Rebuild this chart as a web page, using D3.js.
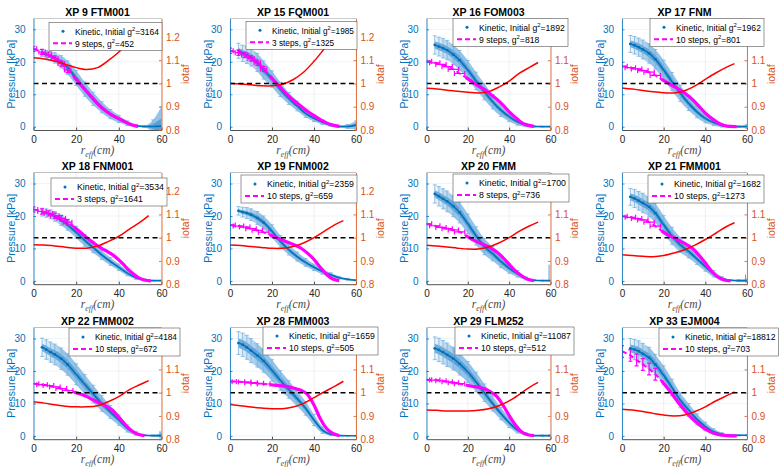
<!DOCTYPE html>
<html>
<head>
<meta charset="utf-8">
<script src="https://cdn.jsdelivr.net/npm/d3@7"></script>
<style>
body { margin: 0; background: #fff; }
svg { display: block; font-family: "Liberation Sans", Arial, Helvetica, sans-serif; }
</style>
</head>
<body>
<svg id="chart" width="779" height="467"></svg>
<script>
// panel titles and legend numbers
const titles = ["XP 9 FTM001", "XP 15 FQM001", "XP 16 FOM003", "XP 17 FNM",
                "XP 18 FNM001", "XP 19 FNM002", "XP 20 FMM", "XP 21 FMM001",
                "XP 22 FMM002", "XP 28 FMM003", "XP 29 FLM252", "XP 33 EJM004"];
const initG2 = [3164, 1985, 1892, 1962, 3534, 2359, 1700, 1682, 4184, 1659, 11087, 18812];
const steps = [9, 3, 9, 10, 3, 10, 8, 10, 10, 10, 10, 10];
const finalG2 = [452, 1325, 818, 801, 1641, 659, 736, 1273, 672, 505, 512, 703];

// kinetic pressure (kPa) and its spread, at r_eff (cm)
const kinR = [4, 6, 8, 10, 13, 16, 20, 24, 28, 32, 36, 40, 44, 48, 52, 56, 60];
const kinP = [
  [22.6, 22.3, 21.8, 21.2, 20.0, 18.2, 15.0, 11.6, 8.6, 6.0, 3.9, 2.4, 1.1, 0.3, 0.1, 0.1, 0.2],
  [23.4, 22.6, 22.1, 21.4, 19.8, 17.5, 14.7, 11.5, 8.7, 6.4, 4.1, 2.6, 1.4, 0.5, 0.1, 0.1, 0.5],
  [25.2, 24.7, 24.2, 23.6, 22.2, 20.5, 17.5, 14.1, 10.8, 7.7, 5.1, 3.1, 1.5, 0.5, 0.1, 0.05, 0.05],
  [25.5, 25.1, 24.5, 23.8, 22.6, 20.8, 17.5, 13.9, 10.3, 7.2, 4.6, 2.6, 1.3, 0.4, 0.1, 0.05, 0.1],
  [21.2, 20.9, 20.5, 19.9, 18.7, 17.3, 15.0, 12.5, 10.3, 8.0, 6.0, 4.2, 2.4, 1.0, 0.3, 0.1, 0.1],
  [21.6, 21.2, 20.9, 20.4, 19.4, 18.0, 15.3, 12.2, 9.6, 7.5, 5.7, 4.2, 2.9, 1.9, 1.0, 0.5, 0.2],
  [26.8, 26.1, 25.3, 24.5, 23.0, 21.1, 17.6, 13.9, 10.6, 8.4, 6.0, 3.9, 2.2, 0.8, 0.2, 0.1, 0.1],
  [25.9, 25.4, 24.7, 24.0, 22.8, 20.9, 17.3, 13.9, 11.1, 9.1, 6.8, 4.4, 2.2, 0.8, 0.2, 0.1, 0.1],
  [27.3, 26.6, 25.8, 25.1, 23.8, 22.0, 19.0, 15.9, 12.9, 10.0, 7.4, 4.9, 2.3, 0.8, 0.2, 0.1, 0.1],
  [28.6, 28.1, 27.3, 26.3, 24.8, 23.1, 20.2, 17.1, 14.3, 11.5, 8.5, 4.9, 1.8, 0.5, 0.1, 0.05, 0.05],
  [27.0, 26.5, 25.8, 25.0, 23.8, 22.2, 19.7, 16.6, 13.3, 10.0, 6.9, 4.1, 1.8, 0.6, 0.1, 0.1, 0.1],
  [27.0, 26.6, 26.1, 25.3, 24.1, 22.0, 18.7, 14.9, 11.0, 8.0, 5.1, 2.9, 1.3, 0.5, 0.2, 0.2, 0.2]
];
const kinErr = [
  [1.0, 1.2, 1.4, 1.6, 1.9, 2.1, 2.3, 2.2, 2.0, 1.7, 1.4, 1.1, 0.7, 0.4, 0.3, 2.0, 6.0],
  [2.3, 2.5, 2.6, 2.7, 2.8, 2.8, 2.5, 2.2, 1.8, 1.5, 1.2, 1.0, 0.7, 0.4, 0.3, 0.6, 1.3],
  [2.8, 2.9, 3.0, 3.0, 3.0, 3.0, 2.9, 2.7, 2.5, 2.2, 1.9, 1.5, 1.0, 0.5, 0.2, 0.1, 0.1],
  [2.6, 2.7, 2.8, 2.9, 3.0, 3.0, 3.0, 2.8, 2.5, 2.2, 1.8, 1.4, 0.9, 0.5, 0.2, 0.2, 0.6],
  [1.2, 1.3, 1.4, 1.5, 1.6, 1.7, 1.8, 1.8, 1.6, 1.4, 1.2, 1.0, 0.8, 0.5, 0.3, 0.1, 0.1],
  [1.3, 1.5, 1.7, 1.8, 2.0, 2.0, 2.0, 1.8, 1.6, 1.4, 1.2, 1.0, 0.8, 0.6, 0.4, 0.3, 0.2],
  [2.8, 3.0, 3.1, 3.2, 3.2, 3.2, 3.0, 2.8, 2.5, 2.2, 1.9, 1.5, 1.0, 0.5, 0.2, 0.1, 0.1],
  [2.6, 2.8, 2.9, 3.0, 3.0, 3.0, 2.8, 2.6, 2.3, 2.0, 1.7, 1.4, 1.0, 0.5, 0.2, 0.3, 0.5],
  [2.8, 3.0, 3.1, 3.2, 3.3, 3.3, 3.2, 3.0, 2.7, 2.4, 2.0, 1.6, 1.1, 0.6, 0.2, 0.2, 0.8],
  [3.5, 3.6, 3.7, 3.7, 3.6, 3.5, 3.3, 3.0, 2.7, 2.4, 2.1, 1.7, 1.0, 0.4, 0.1, 0.1, 0.1],
  [3.5, 3.6, 3.6, 3.6, 3.5, 3.4, 3.2, 3.0, 2.7, 2.3, 1.9, 1.5, 0.9, 0.4, 0.1, 0.2, 0.3],
  [3.0, 3.1, 3.2, 3.2, 3.2, 3.1, 2.9, 2.6, 2.3, 2.0, 1.7, 1.3, 0.9, 0.5, 0.2, 0.2, 0.2]
];
// single tall error bar at the edge (kPa)
const edgeErr = [0, 0, 0, 0, 0, 0, 5, 2, 1.5, 0, 0, 0];

// fitted pressure (kPa) after the steps
const fitR = [0, 4, 7, 10, 13, 16, 19, 22, 25, 28, 31, 34, 37, 40, 43, 46, 49, 52, 55];
const fitP = [
  [24.0, 23.0, 22.2, 21.0, 19.5, 17.5, 15.3, 13.0, 10.8, 8.6, 6.4, 4.8, 3.5, 2.5, 1.5, 0.6, 0.1, null, null],
  [23.4, 22.8, 22.1, 21.0, 19.7, 17.8, 15.6, 13.5, 11.4, 9.4, 7.8, 6.2, 4.7, 3.4, 2.2, 1.2, 0.5, 0.1, null],
  [20.2, 19.7, 19.2, 18.5, 17.7, 16.4, 15.2, 13.9, 12.6, 11.5, 10.0, 8.5, 6.7, 4.6, 2.9, 1.3, 0.5, 0.1, null],
  [18.6, 18.2, 17.8, 17.3, 16.8, 15.8, 14.6, 13.5, 12.4, 11.3, 9.9, 8.3, 6.3, 4.2, 2.6, 1.3, 0.4, 0.1, 0.05],
  [22.0, 21.4, 20.8, 20.1, 19.3, 18.1, 16.6, 15.0, 13.3, 11.8, 10.4, 9.3, 8.1, 6.5, 4.5, 2.6, 1.1, 0.3, 0.05],
  [17.2, 16.9, 16.6, 16.1, 15.6, 15.0, 14.2, 13.4, 12.6, 11.8, 11.0, 10.0, 8.5, 6.6, 4.2, 2.0, 0.6, 0.1, null],
  [17.6, 17.0, 16.5, 16.1, 15.7, 15.1, 14.0, 12.8, 11.9, 11.1, 10.2, 8.9, 7.2, 5.1, 3.1, 1.6, 0.5, 0.1, null],
  [19.9, 19.6, 19.2, 18.8, 18.1, 16.9, 15.4, 14.2, 13.3, 12.2, 11.2, 9.9, 7.9, 5.5, 3.0, 1.2, 0.3, 0.05, null],
  [16.1, 15.8, 15.5, 15.1, 14.6, 14.0, 13.5, 12.9, 12.1, 11.1, 10.1, 9.2, 7.9, 5.8, 3.5, 1.6, 0.5, 0.1, null],
  [16.8, 16.7, 16.6, 16.4, 16.2, 16.0, 15.8, 15.6, 15.4, 15.1, 14.6, 14.0, 12.7, 9.5, 5.3, 2.3, 0.8, 0.15, null],
  [17.3, 17.2, 17.0, 16.7, 16.4, 16.1, 15.7, 15.3, 15.0, 14.5, 13.6, 12.2, 9.5, 6.3, 3.4, 1.3, 0.4, 0.1, null],
  [26.0, 24.8, 23.4, 22.0, 20.6, 19.0, 16.9, 14.6, 12.1, 9.5, 7.2, 5.2, 3.5, 2.1, 1.1, 0.5, 0.2, 0.05, 0.0]
];
// error bar half-sizes of the fitted points: radial (cm) and pressure (kPa)
const fitErrR = [1.5, 1.5, 2.5, 2.5, 2, 2.5, 2.5, 2.5, 2.5, 3, 2.5, 0];
const fitErrP = [0.8, 0.8, 0, 0, 0.8, 0, 0, 0, 0, 0, 0, 1.8];

// rotational transform iotaf
const iotaR = [0, 5, 10, 15, 20, 25, 30, 35, 40, 45, 50, 54];
const iotaV = [
  [1.110, 1.105, 1.096, 1.082, 1.068, 1.060, 1.068, 1.098, 1.135, 1.180, 1.225, 1.255],
  [1.000, 0.998, 0.994, 0.990, 0.990, 0.997, 1.016, 1.048, 1.095, 1.150, 1.205, 1.245],
  [0.979, 0.976, 0.971, 0.966, 0.962, 0.959, 0.965, 0.984, 1.010, 1.044, 1.070, 1.090],
  [0.981, 0.976, 0.970, 0.964, 0.960, 0.959, 0.969, 0.990, 1.018, 1.045, 1.069, 1.085],
  [0.970, 0.968, 0.964, 0.959, 0.955, 0.955, 0.964, 0.983, 1.006, 1.037, 1.067, 1.095],
  [0.968, 0.966, 0.962, 0.958, 0.954, 0.954, 0.962, 0.977, 1.000, 1.028, 1.056, 1.073],
  [0.967, 0.964, 0.960, 0.955, 0.951, 0.951, 0.960, 0.977, 1.000, 1.028, 1.051, 1.067],
  [0.927, 0.923, 0.920, 0.918, 0.923, 0.934, 0.948, 0.968, 0.992, 1.019, 1.047, 1.064],
  [0.961, 0.955, 0.948, 0.942, 0.939, 0.939, 0.944, 0.961, 0.983, 1.013, 1.035, 1.052],
  [0.949, 0.944, 0.938, 0.934, 0.931, 0.931, 0.938, 0.954, 0.979, 1.004, 1.028, 1.049],
  [0.926, 0.924, 0.921, 0.921, 0.921, 0.924, 0.931, 0.944, 0.965, 0.993, 1.024, 1.044],
  [0.929, 0.925, 0.919, 0.911, 0.904, 0.900, 0.904, 0.919, 0.939, 0.964, 0.986, 1.003]
];

const xTicks = [0, 20, 40, 60];
const pTicks = [0, 10, 20, 30];
const iotaTicks = [0.8, 0.9, 1, 1.1, 1.2];

// layout
const colLeft = [33.5, 230, 426.5, 622];
const colRight = [161.5, 356, 550.5, 747];
const rowBottom = [130, 284.2, 439.2];
const plotH = 111.7;
// legend box: left edge from plot left, right edge from plot right, top from plot top
const legendDx = [15.5, 16, 26.5, 28, 17.5, 11, 26.5, 26, 35.5, 33, 28.5, 37];
const legendRx = [0.5, 1, 17.5, 17, 5.5, 1, 18.5, 17, 18.5, 22, 23.5, 31.5];
const legendDy = [4, 3, 0, 0, 5.5, 2.5, 1.5, 2.5, 0.5, -0.5, -0.5, 0.5];

const blue = "#0072BD", orange = "#D95319", dark = "#262626";

const svg = d3.select("#chart");
const defs = svg.append("defs");

titles.forEach((title, i) => {
    const col = i % 4, row = Math.floor(i / 4);
    const x0 = colLeft[col], x1 = colRight[col];
    const y1 = rowBottom[row], y0 = y1 - plotH;

    const x = d3.scaleLinear().domain([0, 60]).range([x0, x1]);
    const yP = d3.scaleLinear().domain([-1, 33.4]).range([y1, y0]);
    const yI = d3.scaleLinear().domain([0.8, 1.28]).range([y1, y0]);

    const g = svg.append("g");

    defs.append("clipPath").attr("id", "clip" + i)
        .append("rect").attr("x", x0).attr("y", y0).attr("width", x1 - x0).attr("height", plotH);

    // the band fades in near the core, where the error bars are still separate
    const grad = defs.append("linearGradient").attr("id", "fade" + i)
        .attr("gradientUnits", "userSpaceOnUse")
        .attr("x1", x(4)).attr("x2", x(14)).attr("y1", 0).attr("y2", 0);
    grad.append("stop").attr("offset", 0).attr("stop-color", "#93c3e8").attr("stop-opacity", 0.15);
    grad.append("stop").attr("offset", 1).attr("stop-color", "#93c3e8").attr("stop-opacity", 1);

    // grid
    g.selectAll(".vg").data(xTicks).enter().append("line")
        .attr("x1", d => x(d)).attr("x2", d => x(d)).attr("y1", y0).attr("y2", y1)
        .attr("stroke", "rgba(38,38,38,0.12)").attr("stroke-width", 0.6);
    g.selectAll(".hg").data(pTicks).enter().append("line")
        .attr("x1", x0).attr("x2", x1).attr("y1", d => yP(d)).attr("y2", d => yP(d))
        .attr("stroke", "rgba(0,114,189,0.13)").attr("stroke-width", 0.6);

    const plot = g.append("g").attr("clip-path", `url(#clip${i})`);

    // kinetic profile
    const kin = kinR.map((r, j) => ({r, p: kinP[i][j], e: kinErr[i][j]}));
    plot.append("path").datum(kin)
        .attr("d", d3.area().x(d => x(d.r)).y0(d => yP(d.p - d.e)).y1(d => yP(d.p + d.e)).curve(d3.curveMonotoneX))
        .attr("fill", `url(#fade${i})`);
    plot.append("path").datum(kin)
        .attr("d", d3.area().x(d => x(d.r)).y0(d => yP(d.p - 0.4 * d.e)).y1(d => yP(d.p + 0.4 * d.e)).curve(d3.curveMonotoneX))
        .attr("fill", "#4a94cf").attr("opacity", 0.75);

    const eb = plot.append("g").attr("stroke", "#79b1dc").attr("stroke-width", 0.8);
    kin.forEach(d => {
        eb.append("line").attr("x1", x(d.r)).attr("x2", x(d.r)).attr("y1", yP(d.p - d.e)).attr("y2", yP(d.p + d.e));
        [d.p - d.e, d.p + d.e].forEach(v => eb.append("line")
            .attr("x1", x(d.r) - 2).attr("x2", x(d.r) + 2).attr("y1", yP(v)).attr("y2", yP(v)));
    });
    if (edgeErr[i] > 0) {
        plot.append("line").attr("x1", x(59.3)).attr("x2", x(59.3))
            .attr("y1", yP(0)).attr("y2", yP(edgeErr[i]))
            .attr("stroke", "#5a9fd6").attr("stroke-width", 1);
    }
    plot.append("path").datum(kin)
        .attr("d", d3.line().x(d => x(d.r)).y(d => yP(d.p)).curve(d3.curveMonotoneX))
        .attr("fill", "none").attr("stroke", blue).attr("stroke-width", 1.6);
    plot.selectAll(".dot").data(kin.filter(d => d.r <= 16)).enter().append("circle")
        .attr("cx", d => x(d.r)).attr("cy", d => yP(d.p)).attr("r", 1.4).attr("fill", blue);

    // fitted profile
    const fit = fitR.map((r, j) => ({r, p: fitP[i][j]})).filter(d => d.p != null);
    const fitLine = d3.line().x(d => x(d.r)).y(d => yP(d.p)).curve(d3.curveMonotoneX);
    plot.append("path").datum(fit).attr("d", fitLine)
        .attr("fill", "none").attr("stroke", "#FF00FF").attr("stroke-width", 2)
        .attr("stroke-dasharray", "5,3");
    plot.append("path").datum(fit.filter(d => d.r >= 19)).attr("d", fitLine)
        .attr("fill", "none").attr("stroke", "#FF00FF").attr("stroke-width", 3.2);
    const fb = plot.append("g").attr("stroke", "#FF00FF").attr("stroke-width", 1.2);
    fit.filter(d => d.r <= 16).forEach(d => {
        const er = fitErrR[i], ep = fitErrP[i];
        if (er > 0) {
            fb.append("line").attr("x1", x(d.r - er)).attr("x2", x(d.r + er)).attr("y1", yP(d.p)).attr("y2", yP(d.p));
            [d.r - er, d.r + er].forEach(v => fb.append("line")
                .attr("x1", x(v)).attr("x2", x(v)).attr("y1", yP(d.p) - 2.5).attr("y2", yP(d.p) + 2.5));
        }
        if (ep > 0) {
            fb.append("line").attr("x1", x(d.r)).attr("x2", x(d.r)).attr("y1", yP(d.p - ep)).attr("y2", yP(d.p + ep));
            [d.p - ep, d.p + ep].forEach(v => fb.append("line")
                .attr("x1", x(d.r) - 2).attr("x2", x(d.r) + 2).attr("y1", yP(v)).attr("y2", yP(v)));
        }
    });

    // iota and the iota = 1 reference
    const iota = iotaR.map((r, j) => ({r, v: iotaV[i][j]}));
    plot.append("path").datum(iota)
        .attr("d", d3.line().x(d => x(d.r)).y(d => yI(d.v)).curve(d3.curveCatmullRom))
        .attr("fill", "none").attr("stroke", "#FF0000").attr("stroke-width", 1.5);
    plot.append("line").attr("x1", x(0)).attr("x2", x(60)).attr("y1", yI(1)).attr("y2", yI(1))
        .attr("stroke", "#000").attr("stroke-width", 1.5).attr("stroke-dasharray", "5,3.5");

    // axes
    g.append("line").attr("x1", x0).attr("x2", x1).attr("y1", y0).attr("y2", y0)
        .attr("stroke", dark).attr("stroke-width", 0.5).attr("opacity", 0.6);

    const styleAxis = (sel, color) => {
        sel.selectAll("path,line").attr("stroke", color).attr("stroke-width", 0.8);
        sel.selectAll("text").attr("fill", color).style("font-size", "10px")
            .style("font-family", "'Liberation Sans', Arial, sans-serif");
    };
    const ax = g.append("g").attr("transform", `translate(0,${y1})`)
        .call(d3.axisBottom(x).tickValues(xTicks).tickSizeInner(-2.5).tickSizeOuter(0).tickPadding(6));
    styleAxis(ax, dark);
    const al = g.append("g").attr("transform", `translate(${x0},0)`)
        .call(d3.axisLeft(yP).tickValues(pTicks).tickSizeInner(-2.5).tickSizeOuter(0).tickPadding(8));
    styleAxis(al, blue);
    const ar = g.append("g").attr("transform", `translate(${x1},0)`)
        .call(d3.axisRight(yI).tickValues(iotaTicks).tickSizeInner(-2.5).tickSizeOuter(0).tickPadding(4.5)
            .tickFormat(d => d === 1 ? "1" : d.toFixed(1)));
    styleAxis(ar, orange);

    // labels
    g.append("text").attr("x", (x0 + x1) / 2).attr("y", y0 - 2.2)
        .attr("text-anchor", "middle").style("font-size", "10.5px").style("font-weight", "bold")
        .attr("fill", "#000").text(title);
    g.append("text").attr("transform", `translate(${x0 - 22},${(y0 + y1) / 2}) rotate(-90)`)
        .attr("text-anchor", "middle").attr("dy", "0.35em").style("font-size", "10.5px")
        .attr("fill", blue).text("Pressure [kPa]");
    g.append("text").attr("transform", `translate(${x1 + 24},${(y0 + y1) / 2}) rotate(-90)`)
        .attr("text-anchor", "middle").attr("dy", "0.35em").style("font-size", "10.5px")
        .attr("fill", orange).text("iotaf");
    const xl = g.append("text").attr("x", (x0 + x1) / 2).attr("y", y1 + 24)
        .attr("text-anchor", "middle").style("font-family", "'Liberation Serif', 'DejaVu Serif', serif")
        .style("font-style", "italic").style("font-size", "11.5px").attr("fill", "#4a4a4a");
    xl.append("tspan").text("r");
    xl.append("tspan").attr("dy", 2.5).style("font-size", "8px").text("eff");
    xl.append("tspan").attr("dy", -2.5).text("(cm)");

    // legend, drawn over its own axis
    const lx0 = x0 + legendDx[i], lx1 = x1 + legendRx[i], ly0 = y0 + legendDy[i];
    const lw = lx1 - lx0;
    const lg = g.append("g").attr("transform", `translate(${lx0},${ly0})`);
    lg.append("rect").attr("width", lw).attr("height", 28).attr("fill", "#fff")
        .attr("stroke", "#555").attr("stroke-width", 0.6);
    lg.append("circle").attr("cx", 14).attr("cy", 9).attr("r", 1.5).attr("fill", blue);
    lg.append("line").attr("x1", 4).attr("x2", 23).attr("y1", 21).attr("y2", 21)
        .attr("stroke", "#FF00FF").attr("stroke-width", 2).attr("stroke-dasharray", "5,3");
    const t1 = lg.append("text").attr("x", 26).attr("y", 12.3).attr("fill", "#000");
    t1.append("tspan").text("Kinetic, Initial g");
    t1.append("tspan").attr("class", "sup").attr("dy", -3.5).text("2");
    t1.append("tspan").attr("dy", 3.5).text("=" + initG2[i]);
    const t2 = lg.append("text").attr("x", 26).attr("y", 24.3).attr("fill", "#000");
    t2.append("tspan").text(`${steps[i]} steps, g`);
    t2.append("tspan").attr("class", "sup").attr("dy", -3.5).text("2");
    t2.append("tspan").attr("dy", 3.5).text("=" + finalG2[i]);
    // fit the legend font to the box width
    const setSize = fs => {
        lg.selectAll("text").style("font-size", fs + "px");
        lg.selectAll(".sup").style("font-size", (fs * 0.68) + "px");
    };
    setSize(9);
    const w9 = t1.node().getComputedTextLength();
    const fs = Math.max(8, Math.min(10.5, 9 * (lw - 29) / w9));
    setSize(fs);

    // iota tick labels hidden behind the legend box
    ar.selectAll(".tick text").each(function() {
        const b = this.getBBox();
        const m = this.parentNode.transform.baseVal.consolidate().matrix;
        const bx0 = x1 + b.x, bx1 = bx0 + b.width, by0 = m.f + b.y, by1 = by0 + b.height;
        const ox = Math.max(0, Math.min(bx1, lx1) - Math.max(bx0, lx0));
        const oy = Math.max(0, Math.min(by1, ly0 + 28) - Math.max(by0, ly0));
        if (ox > 0.4 * b.width && oy > 0.4 * b.height) d3.select(this).remove();
    });
});
</script>
</body>
</html>
